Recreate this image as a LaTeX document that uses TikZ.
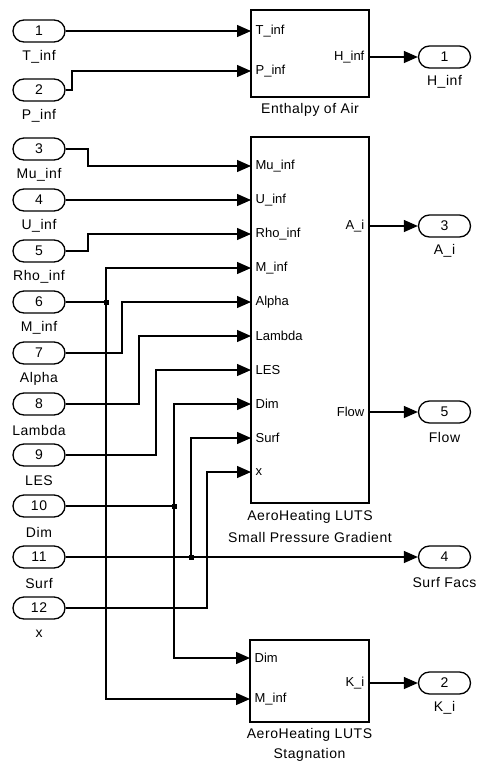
\documentclass[tikz,border=0pt]{standalone}
\usepackage{fontspec}
\setmainfont{Liberation Sans}
\newfontfamily\lblfont{Liberation Sans}[LetterSpace=4]
\usetikzlibrary{arrows.meta}
\begin{document}
\begin{tikzpicture}[x=1pt,y=-1pt,line width=1.3pt,
  portbox/.style={draw, rounded corners=11pt, minimum width=52pt, minimum height=22pt, inner sep=0pt, font=\lblfont\fontsize{14}{15}\selectfont},
  blockbox/.style={draw, inner sep=0pt},
  lbl/.style={font=\lblfont\fontsize{14}{15}\selectfont, inner sep=0pt},
  plbl/.style={font=\fontsize{13}{14}\selectfont, inner sep=0pt},
  wire/.style={-{Triangle[length=14pt,width=12pt]}},
  junc/.style={fill=black, minimum size=5pt, inner sep=0pt}]
\useasboundingbox (0,0) rectangle (478,764);

% ---------- inports ----------
\foreach \n/\y/\t in {1/31/T\_inf,2/90/P\_inf,3/149/Mu\_inf,4/200/U\_inf,5/251/Rho\_inf,6/302/M\_inf,7/353/Alpha,8/404/Lambda,9/455/LES,10/506/Dim,11/557/Surf,12/608/x}{
  \node[portbox] (in\n) at (39,\y) {\n};
  \node[lbl] (inlabel\n) at (39,\y+26) {\t};
}

% ---------- blocks ----------
\node[blockbox, minimum width=118pt, minimum height=87pt] (ent) at (310,53.5) {};
\node[blockbox, minimum width=118pt, minimum height=366pt] (sp) at (310,320) {};
\node[blockbox, minimum width=119pt, minimum height=82pt] (stag) at (309.5,681) {};

\node[lbl] (entname) at (310,110) {Enthalpy of Air};
\node[lbl] (spname1) at (310,517) {AeroHeating LUTS};
\node[lbl] (spname2) at (310,537) {Small Pressure Gradient};
\node[lbl] (stname1) at (309.5,735) {AeroHeating LUTS};
\node[lbl] (stname2) at (309.5,755) {Stagnation};

% ---------- port coordinates and labels ----------
\coordinate (entT) at (251,31);
\coordinate (entP) at (251,71);
\coordinate (entH) at (369,57);
\node[plbl, anchor=west] (txtEntT) at (255,31) {T\_inf};
\node[plbl, anchor=west] (txtEntP) at (255,71) {P\_inf};
\node[plbl, anchor=east] (txtEntH) at (365,57) {H\_inf};

\foreach \c/\y/\t in {Mu/166/Mu\_inf,U/200/U\_inf,Rho/234/Rho\_inf,M/268/M\_inf,Al/302/Alpha,La/336/Lambda,LES/370/LES,Dim/404/Dim,Surf/438/Surf,X/472/x}{
  \coordinate (sp\c) at (251,\y);
  \node[plbl, anchor=west] (txtSp\c) at (255,\y) {\t};
}
\coordinate (spOutA) at (369,226);
\coordinate (spOutF) at (369,412);
\node[plbl, anchor=east] (txtSpA) at (365,226) {A\_i};
\node[plbl, anchor=east] (txtSpF) at (365,412) {Flow};

\coordinate (stDim) at (250,658);
\coordinate (stM) at (250,699);
\coordinate (stK) at (369,683);
\node[plbl, anchor=west] (txtStDim) at (254,658) {Dim};
\node[plbl, anchor=west] (txtStM) at (254,699) {M\_inf};
\node[plbl, anchor=east] (txtStK) at (365,683) {K\_i};

% ---------- outports ----------
\foreach \n/\y/\t/\k in {1/57/H\_inf/a,3/226/A\_i/b,5/412/Flow/c,4/557/Surf Facs/d,2/683/K\_i/e}{
  \node[portbox] (out\k) at (444.5,\y) {\n};
  \node[lbl] (outlabel\k) at (444.5,\y+25) {\t};
}

% ---------- junctions ----------
\node[junc] (j6) at (106,302) {};
\node[junc] (j10) at (174,506) {};
\node[junc] (j11) at (191,557) {};

% ---------- wires ----------
\draw[wire] (in1.east) -- (entT);
\draw[wire] (in2.east) -- (72,90) |- (entP);
\draw[wire] (in3.east) -- (88,149) |- (spMu);
\draw[wire] (in4.east) -- (spU);
\draw[wire] (in5.east) -- (88,251) |- (spRho);
\draw (in6.east) -- (j6.center);
\draw[wire] (j6.center) |- (spM);
\draw[wire] (j6.center) |- (stM);
\draw[wire] (in7.east) -- (122,353) |- (spAl);
\draw[wire] (in8.east) -- (139,404) |- (spLa);
\draw[wire] (in9.east) -- (156,455) |- (spLES);
\draw (in10.east) -- (j10.center);
\draw[wire] (j10.center) |- (spDim);
\draw[wire] (j10.center) |- (stDim);
\draw (in11.east) -- (j11.center);
\draw[wire] (j11.center) |- (spSurf);
\draw[wire] (j11.center) -- (outd.west);
\draw[wire] (in12.east) -- (207,608) |- (spX);

\draw[wire] (entH) -- (outa.west);
\draw[wire] (spOutA) -- (outb.west);
\draw[wire] (spOutF) -- (outc.west);
\draw[wire] (stK) -- (oute.west);
\end{tikzpicture}
\end{document}
